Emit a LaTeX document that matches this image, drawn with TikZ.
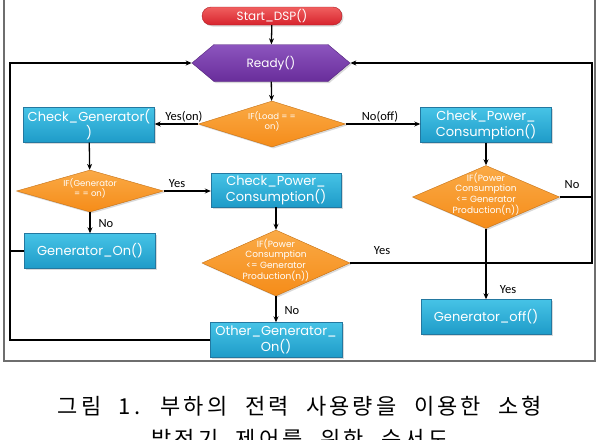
\documentclass[tikz,border=0pt]{standalone}
\usepackage{fontspec}
\setmainfont{Poppins}
\newfontfamily\lblfont{Carlito}
\newfontfamily\krfont[LetterSpace=14,WordSpace=2.2]{Noto Sans CJK KR}
\usepackage{tikz}
\usetikzlibrary{arrows.meta,shapes.geometric,shapes.misc,shapes.symbols,shadows}
\usepackage{xcolor}
\definecolor{startred}{RGB}{215,35,45}
\definecolor{startredlt}{RGB}{240,95,95}
\definecolor{readypurple}{RGB}{105,45,155}
\definecolor{readypurplelt}{RGB}{140,85,190}
\definecolor{decorange}{RGB}{245,140,25}
\definecolor{decorangelt}{RGB}{250,170,70}
\definecolor{procblue}{RGB}{30,155,200}
\definecolor{procbluelt}{RGB}{70,195,230}
\definecolor{procedge}{RGB}{35,120,160}
\definecolor{framegrey}{RGB}{110,110,110}
% diamond text that does not size the diamond
\newcommand{\dtext}[1]{\smash{\makebox[0pt]{\begin{tabular}{@{}c@{}}#1\end{tabular}}}}

\begin{document}
\begin{tikzpicture}[x=1pt,y=-1pt,
    shade/.style={drop shadow={shadow xshift=1.5pt,shadow yshift=-1.5pt,opacity=0.3}},
    proc/.style={rectangle,draw=procedge,thin,top color=procbluelt,bottom color=procblue,
      minimum width=131pt,minimum height=35pt,inner sep=0pt,align=center,
      text=white,font=\fontsize{13}{16}\selectfont,shade},
    decision/.style={diamond,draw=decorange!80!black,thin,top color=decorangelt,bottom color=decorange,
      minimum width=147pt,inner sep=0pt,text=white,
      font=\fontsize{9}{10.5}\selectfont,shade},
    flow/.style={line width=1.3pt,-{Stealth[length=6pt,width=5pt]}},
    wire/.style={line width=1.3pt},
    lbl/.style={font=\lblfont\fontsize{12.5}{13}\selectfont,inner sep=0pt}]
  \useasboundingbox (0,0) rectangle (599,439);
  \clip (0,0) rectangle (599,439);
  % Frame
  \draw[framegrey,line width=1.5pt] (4,-10) rectangle (595,361);
  % Nodes
  \node[rounded rectangle,draw=startred!80!black,thin,top color=startredlt,bottom color=startred,
    minimum width=140pt,minimum height=18pt,inner sep=0pt,text=white,
    font=\fontsize{12}{12}\selectfont,shade] (start) at (272,16) {Start\_DSP()};
  \node[signal,signal to=east and west,signal pointer angle=80,
    draw=readypurple!80!black,thin,top color=readypurplelt,bottom color=readypurple,
    minimum width=158pt,minimum height=37pt,inner sep=0pt,text=white,
    font=\fontsize{12}{12}\selectfont,shade] (ready) at (271,63) {Ready()};
  \node[decision,minimum height=46pt,font=\fontsize{8.5}{10}\selectfont] (ifload) at (272,124)
    {\dtext{IF(Load = =\\on)}};
  \node[proc] (chkgen) at (89,125) {Check\_Generator(\\)};
  \node[proc] (chkpowR) at (486,125) {Check\_Power\_\\Consumption()};
  \node[decision,minimum height=42pt,font=\fontsize{8.5}{10}\selectfont] (ifgen) at (90,191)
    {\dtext{IF(Generator\\= = on)}};
  \node[proc,minimum width=130pt,minimum height=34pt] (chkpowM) at (276,190) {Check\_Power\_\\Consumption()};
  \node[proc] (genon) at (90,251) {Generator\_On()};
  \node[decision,minimum width=148pt,minimum height=66pt] (ifpowM) at (276,263)
    {\dtext{IF(Power\\Consumption\\<= Generator\\Production(n))}};
  \node[proc,minimum width=132pt] (othergen) at (276,340) {Other\_Generator\_\\On()};
  \node[decision,minimum width=147pt,minimum height=63pt] (ifpowR) at (486,197)
    {\dtext{IF(Power\\Consumption\\<= Generator\\Production(n))}};
  \node[proc,minimum width=130pt] (genoff) at (486,317) {Generator\_off()};
  % Loop corners
  \coordinate (lft) at (10,0);
  \coordinate (rgt) at (592,0);
  % Connectors
  \draw[flow] (start) -- (ready);
  \draw[flow] (ready) -- (ifload);
  \draw[flow] (ifload.west) -- (ifload.west -| chkgen.east);
  \draw[flow] (ifload.east) -- (ifload.east -| chkpowR.west);
  \draw[flow] (chkgen) -- (ifgen);
  \draw[flow] (ifgen.east) -- (ifgen.east -| chkpowM.west);
  \draw[flow] (ifgen) -- (genon);
  \draw[flow] (chkpowM) -- (ifpowM);
  \draw[flow] (ifpowM) -- (othergen);
  \draw[flow] (chkpowR) -- (ifpowR);
  \draw[flow] (ifpowR) -- (genoff);
  \draw[flow] (ifpowM.east) -| (ready.east -| rgt) -- (ready.east);
  \draw[wire] (ifpowR.east) -- (ifpowR.east -| rgt);
  \draw[flow] (othergen.west) -| (ready.west -| lft) -- (ready.west);
  \draw[wire] (genon.west) -- (genon.west -| lft);
  % Labels
  \node[lbl] (lyeson) at (184,117) {Yes(on)};
  \node[lbl] (lnooff) at (380,117) {No(off)};
  \node[lbl] (lyesgen) at (177,184) {Yes};
  \node[lbl] (lnogen) at (106,224) {No};
  \node[lbl] (lnopowM) at (292,311) {No};
  \node[lbl] (lyespowM) at (382,251) {Yes};
  \node[lbl] (lnopowR) at (572,185) {No};
  \node[lbl] (lyespowR) at (508,290) {Yes};
  % Caption
  \node[font=\krfont\fontsize{22}{33}\selectfont,align=center,anchor=north] (caption) at (300,393)
    {그림 1. 부하의 전력 사용량을 이용한 소형\\발전기 제어를 위한 순서도};
\end{tikzpicture}
\end{document}
